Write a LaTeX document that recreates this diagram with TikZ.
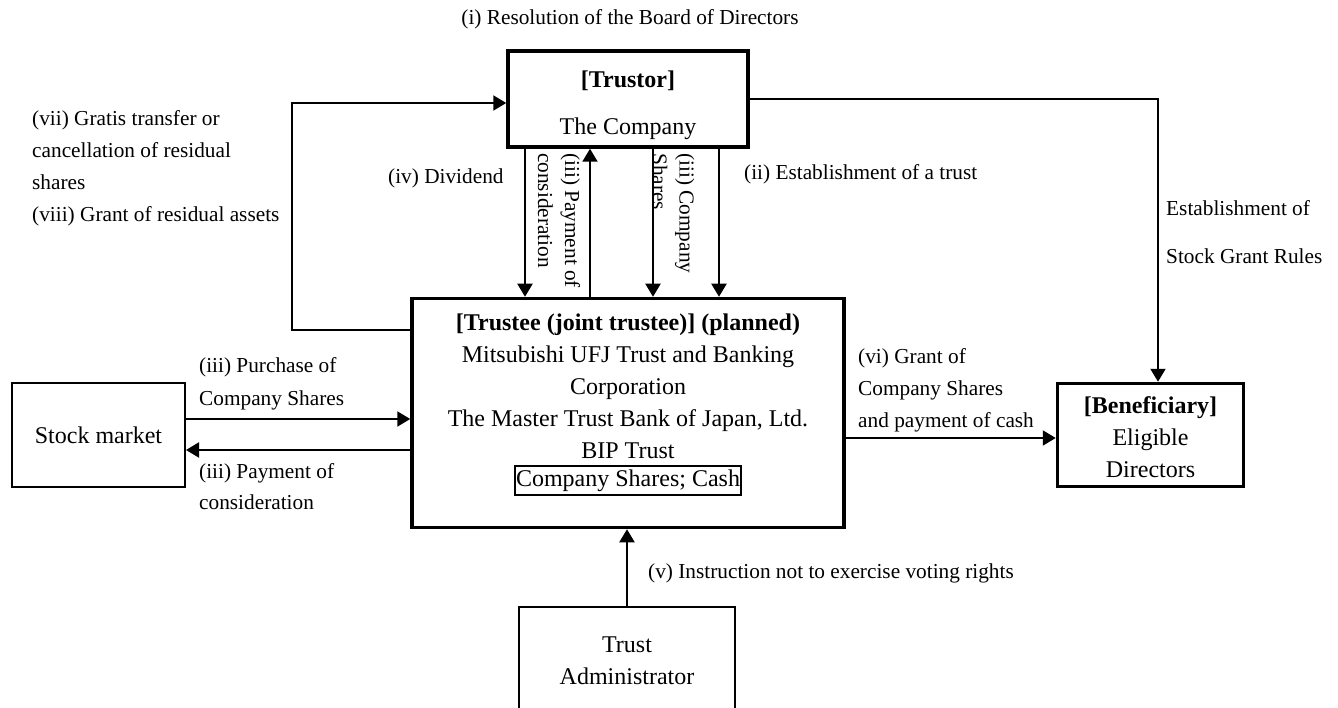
\documentclass[tikz,border=0pt]{standalone}
\usepackage{fontspec}
\setmainfont{Liberation Serif}
\usetikzlibrary{arrows.meta}

\begin{document}
\begin{tikzpicture}[x=1pt, y=-1pt,
    bigbox/.style={draw, line width=3.5pt, align=center, inner sep=0pt,
      font=\fontsize{24}{32}\selectfont},
    smallbox/.style={draw, line width=2pt, align=center, inner sep=0pt,
      font=\fontsize{24}{32}\selectfont},
    note/.style={inner sep=0pt, align=left, font=\fontsize{21.3}{32}\selectfont},
    arr/.style={line width=2pt, -{Triangle[length=13pt, width=15pt]}}]
  \useasboundingbox (0,0) rectangle (1338,708);
  \clip (0,0) rectangle (1338,708);

  % parties
  \node[bigbox, minimum width=240pt, minimum height=96pt] (trustor) at (628,99)
    {\rule{0pt}{30pt}\textbf{[Trustor]}\\[15pt]The Company};
  \node[bigbox, minimum width=432pt, minimum height=229pt] (trustee) at (628,413) {};
  \node[inner sep=0pt, align=center, font=\fontsize{24}{32}\selectfont] (trusteetxt) at (628,386)
    {\textbf{[Trustee (joint trustee)] (planned)}\\
     Mitsubishi UFJ Trust and Banking\\
     Corporation\\
     The Master Trust Bank of Japan, Ltd.\\
     BIP Trust};
  \node[smallbox, inner xsep=1pt, minimum height=29pt] (assets) at (628,480.5)
    {Company Shares; Cash};
  \node[smallbox, minimum width=173pt, minimum height=104pt] (stock) at (98.5,435) {Stock market};
  \node[bigbox, minimum width=186pt, minimum height=103pt] (beneficiary) at (1150.5,435)
    {\rule{0pt}{21pt}\textbf{[Beneficiary]}\\Eligible\\Directors};
  \node[smallbox, minimum width=216pt, minimum height=108pt] (admin) at (627,661)
    {Trust\\Administrator};

  % flows
  \draw[arr] ([yshift=83pt]trustee.west) -- ++(-118,0) |- ([yshift=-4pt]trustor.west);
  \draw[arr] (trustor.east) -| ([xshift=7.5pt]beneficiary.north);
  \foreach \x in {525,653,719}
    \draw[arr] (trustor.south -| \x,0) -- (trustee.north -| \x,0);
  \draw[arr] (trustee.north -| 590,0) -- (trustor.south -| 590,0);
  \draw[arr] ([yshift=16pt]stock.east) -- ([yshift=16pt]stock.east -| trustee.west);
  \draw[arr] ([yshift=-15pt]stock.east -| trustee.west) -- ([yshift=-15pt]stock.east);
  \draw[arr] ([yshift=-3pt]beneficiary.west -| trustee.east) -- ([yshift=-3pt]beneficiary.west);
  \draw[arr] (admin.north) -- (admin.north |- trustee.south);

  % labels
  \node[note] (resolution) at (630,19) {(i) Resolution of the Board of Directors};
  \node[note, anchor=west] (residual) at (32,168)
    {(vii) Gratis transfer or\\cancellation of residual\\shares\\(viii) Grant of residual assets};
  \node[note, anchor=west] (dividend) at (388,178) {(iv) Dividend};
  \node[note, anchor=west, rotate=-90, font=\fontsize{21.3}{27}\selectfont] (payment) at (559,153)
    {(iii) Payment of\\consideration};
  \node[note, anchor=west, rotate=-90, font=\fontsize{21.3}{27}\selectfont] (shares) at (673.5,153)
    {(iii) Company\\Shares};
  \node[note, anchor=west] (establish) at (744,174) {(ii) Establishment of a trust};
  \node[note, anchor=west, font=\fontsize{21.3}{48}\selectfont] (rules) at (1166,232)
    {Establishment of\\Stock Grant Rules};
  \node[note, anchor=west, font=\fontsize{21.3}{33}\selectfont] (purchase) at (199,383.5)
    {(iii) Purchase of\\Company Shares};
  \node[note, anchor=west, font=\fontsize{21.3}{31}\selectfont] (consid) at (199,486.5)
    {(iii) Payment of\\consideration};
  \node[note, anchor=west] (grant) at (858,390)
    {(vi) Grant of\\Company Shares\\and payment of cash};
  \node[note, anchor=west] (voting) at (648,573) {(v) Instruction not to exercise voting rights};
\end{tikzpicture}
\end{document}
